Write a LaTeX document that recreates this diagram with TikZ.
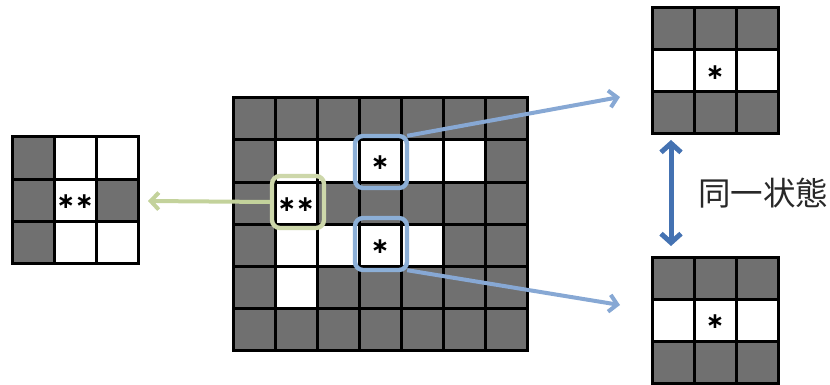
\documentclass[tikz,border=0pt]{standalone}
\usepackage{fontspec}
\newfontfamily\jpfont{Noto Sans CJK JP}
\newfontfamily\symfont{DejaVu Sans}
\usetikzlibrary{arrows.meta}
\definecolor{cellgray}{RGB}{112,112,112}
\definecolor{boxblue}{RGB}{140,175,215}
\definecolor{lineblue}{RGB}{135,168,212}
\definecolor{boxgreen}{RGB}{205,215,170}
\definecolor{linegreen}{RGB}{195,210,155}
\definecolor{darkblue}{RGB}{68,114,178}
\definecolor{textgray}{RGB}{40,40,40}

\begin{document}
\begin{tikzpicture}[x=1pt,y=-1pt,
  cellline/.style={line width=3pt,black,line cap=rect},
  selbox/.style={line width=4.4pt,rounded corners=8pt,minimum size=52pt,inner sep=0pt},
  asterisk/.style={font=\symfont\bfseries\fontsize{22}{22}\selectfont,inner sep=0pt},
  barb/.style={-{Straight Barb[length=8pt,width=17pt]}}]
\useasboundingbox (0,0) rectangle (830,385);
% main board
\fill[cellgray] (233,98) rectangle (527,350);
\foreach \c/\r in {1/1,2/1,3/1,4/1,5/1,1/2,1/3,2/3,3/3,4/3,1/4}
  \fill[white] ({233+42*\c},{98+42*\r}) rectangle ++(42,42);
\foreach \i in {0,...,7} \draw[cellline] ({233+42*\i},98) -- ++(0,252);
\foreach \i in {0,...,6} \draw[cellline] (233,{98+42*\i}) -- ++(294,0);
% 3x3 patches
\foreach \ox/\oy/\wl in {12/137/{1/0,2/0,1/1,1/2,2/2},652/8/{0/1,1/1,2/1},652/257/{0/1,1/1,2/1}}{
  \fill[cellgray] (\ox,\oy) rectangle ++(126,126);
  \foreach \c/\r in \wl \fill[white] ({\ox+42*\c},{\oy+42*\r}) rectangle ++(42,42);
  \foreach \i in {0,...,3}{
    \draw[cellline] ({\ox+42*\i},\oy) -- ++(0,126);
    \draw[cellline] (\ox,{\oy+42*\i}) -- ++(126,0);}
}
\node[asterisk] (dstar) at (296,205) {∗∗};
\node[asterisk] (tstar) at (380,163) {∗};
\node[asterisk] (bstar) at (380,247) {∗};
\node[asterisk] (lstar) at (75,202) {∗∗};
\node[asterisk] (trstar) at (715,73) {∗};
\node[asterisk] (brstar) at (715,322) {∗};
% selections
\node[selbox,draw=boxgreen] (dsel) at (298,202) {};
\node[selbox,draw=boxblue] (tsel) at (381,162) {};
\node[selbox,draw=boxblue] (bsel) at (381,244) {};
\coordinate (ttip) at (620,97);
\coordinate (btip) at (620,305);
\coordinate (gtip) at (148,201);
\coordinate (up) at (671,140);
\coordinate (dn) at (671,246);
\draw[barb,lineblue,line width=4pt] ([shift={(-2,2)}]tsel.north east) -- (ttip);
\draw[barb,lineblue,line width=4pt] ([shift={(-2,-2)}]bsel.south east) -- (btip);
\draw[barb,linegreen,line width=4pt] (dsel.west) -- (gtip);
\draw[{Straight Barb[length=9pt,width=20pt]}-{Straight Barb[length=9pt,width=20pt]},darkblue,line width=5pt] (up) -- (dn);
\node[font=\jpfont\fontsize{32.5}{32.5}\selectfont,text=textgray,anchor=west,inner sep=0pt] (same) at (698,193) {同一状態};
\end{tikzpicture}
\end{document}
